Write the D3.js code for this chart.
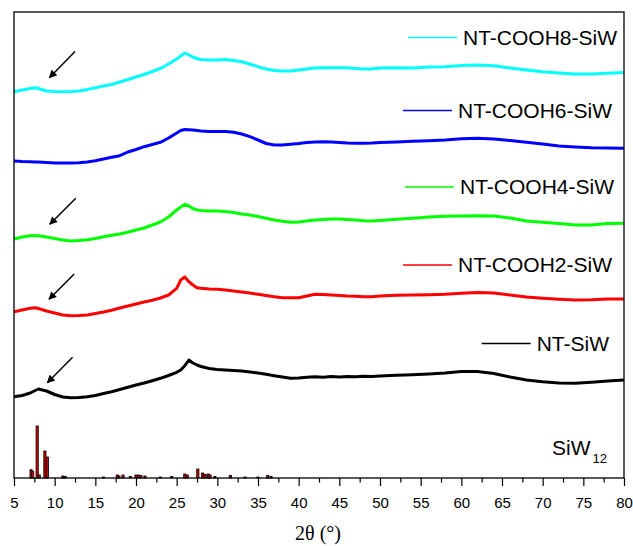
<!DOCTYPE html>
<html>
<head>
<meta charset="utf-8">
<script src="https://cdn.jsdelivr.net/npm/d3@7"></script>
<style>
body { margin: 0; background: #fff; }
text { font-family: "Liberation Sans", Arial, sans-serif; fill: #000; }
</style>
</head>
<body>
<div id="chart"></div>
<script>
var svgWidth = 633;
var svgHeight = 546;

var margin = { top: 12, right: 9, bottom: 68, left: 14 };

var width = svgWidth - margin.left - margin.right;
var height = svgHeight - margin.top - margin.bottom;

// 2theta positions where the traces were read
var twoTheta = [5, 6, 7, 7.6, 8, 9, 10, 11, 12, 13, 14, 15, 16, 17, 18, 19, 20, 21, 22, 23, 24,
  25, 25.5, 26, 26.5, 27, 27.5, 28,
  29, 30, 31, 32, 33, 34, 35, 36, 37, 38, 39, 40, 41, 42, 43, 44, 45, 46, 47, 48, 49, 50,
  52, 54, 56, 58, 60, 62, 64, 66, 68, 70, 72, 74, 76, 78, 80];

// intensities (a.u.), each trace above its own offset
var ntSiW = [11.3, 12.5, 15, 17.5, 19, 17, 13.5, 11, 10.3, 10.5, 11.3, 12.5, 14.5, 16.3, 18.5, 20.7, 23, 25, 27.3, 29.7, 32.5,
  35.7, 38, 42.3, 48, 45, 43, 41.5,
  39.5, 38.5, 38, 37.5, 37, 36, 35, 33.7, 32.3, 31, 29.7, 30, 30.7, 31.3, 30.8, 31.5, 31, 31.6, 31.2, 31.8, 31.4, 32,
  32.7, 33.3, 34, 35, 36.5, 36.5, 34.5, 31, 28, 26.3, 25, 24.7, 25.7, 27, 28];

var cooh2 = [16.3, 18, 19.7, 20.3, 19.5, 17, 15, 13, 12.3, 12.5, 13, 14.5, 16, 17.7, 20, 22, 24, 26, 27.7, 30, 33,
  39.7, 48, 51, 46.3, 43, 40.3, 39.7,
  39, 38.7, 38, 37, 36, 35, 33.7, 32.5, 31.3, 30.3, 30.3, 30.3, 32, 33.7, 33.5, 33, 32.5, 32, 31.7, 31.3, 31.3, 32,
  32.7, 33, 33.3, 33.7, 34.7, 35.5, 35, 33, 31, 29.7, 28.7, 28, 28.3, 29, 29];

var cooh4 = [9, 11, 12.3, 12.5, 12.3, 11, 9.5, 8, 7, 7.5, 8.3, 9.5, 11.3, 12.7, 14, 15.7, 18, 20, 23, 26, 31,
  38, 41, 43.7, 42, 39.5, 38, 37.5,
  37, 37, 36.5, 35.5, 34, 33, 31.5, 29.7, 28, 26.7, 25.7, 26, 27, 28, 28.5, 29, 29, 28.5, 28, 27.3, 27, 27.5,
  28.7, 29.7, 31, 31.7, 32, 32.3, 32, 30, 27, 25.7, 24.5, 23, 23, 24.5, 24.7];

var cooh6 = [17, 16.5, 16.3, 16, 16, 15.5, 15, 15, 15, 15.3, 16, 17.3, 19, 20.7, 22.3, 26, 28.5, 31.3, 33.5, 35.7, 40,
  45, 47.5, 48.5, 48.3, 48, 47.5, 47,
  46.5, 46.5, 46.5, 45.7, 44, 41.3, 38, 34.5, 33, 33, 33.7, 34.5, 35.5, 36, 36.3, 36, 35.5, 35, 34.7, 34.7, 35, 35.5,
  36, 36.7, 37.3, 38, 39.3, 39.7, 39, 37.5, 35.7, 34, 32, 31, 30.3, 30, 29.7];

var cooh8 = [16.3, 18, 19.5, 20.3, 19.5, 17, 16.5, 16.3, 16.5, 17, 18.5, 20.3, 22, 23.5, 26, 28.5, 31, 33.5, 36.5, 39.5, 44,
  49, 52, 55, 53, 51, 49.5, 48.5,
  48, 48, 48.5, 47.5, 46.3, 44, 41.3, 39, 37.5, 37, 37, 38, 39, 40, 40.3, 40.3, 40.3, 40.3, 39.5, 39, 39, 40,
  40.3, 40, 41, 41.3, 42.5, 43, 42.3, 40, 38, 36.3, 35, 34, 34, 34.7, 35.5];

var seriesNames = ["NT-SiW", "NT-COOH2-SiW", "NT-COOH4-SiW", "NT-COOH6-SiW", "NT-COOH8-SiW"];
var seriesValues = [ntSiW, cooh2, cooh4, cooh6, cooh8];
var seriesOffsets = [70, 150, 230, 300, 370];
var seriesColors = ["#000000", "#ff0000", "#00ff00", "#0000ff", "#00ffff"];

// SiW12 reference pattern
var refPos = [7.1, 7.3, 7.85, 8.1, 8.8, 9.1, 11.0, 11.3, 16.0, 17.7, 17.9, 18.4, 19.3, 20.0, 20.3, 20.6, 21.1,
  23.0, 24.4, 26.0, 26.3, 27.6, 28.2, 28.5, 28.9, 29.1, 29.7, 31.6, 33.4, 35.0, 36.2, 36.6];
var refInt = [8.3, 6.7, 52, 3, 27, 21, 2, 1.5, 1, 3, 2, 3, 1.5, 3, 3, 2.5, 2,
  1, 1.5, 4, 3, 9, 5, 3.5, 4, 3, 1.5, 2.5, 1, 1, 2.5, 1.5];

// arrows marking the low-angle hump: [x0, y0, x1, y1]
var arrows = [[12.5, 426.5, 9.35, 400.3], [12.6, 279.7, 9.4, 253.7], [12.4, 204, 9.3, 178.7], [12.2, 120.7, 9.1, 95.3]];

var majorTicks = [5, 10, 15, 20, 25, 30, 35, 40, 45, 50, 55, 60, 65, 70, 75, 80];
var minorTicks = [7.5, 12.5, 17.5, 22.5, 27.5, 32.5, 37.5, 42.5, 47.5, 52.5, 57.5, 62.5, 67.5, 72.5, 77.5];

var svg = d3.select("#chart")
  .append("svg")
  .attr("width", svgWidth)
  .attr("height", svgHeight);

var defs = svg.append("defs");
defs.append("marker")
  .attr("id", "head")
  .attr("viewBox", "0 0 10 10")
  .attr("refX", 9)
  .attr("refY", 5)
  .attr("markerWidth", 10)
  .attr("markerHeight", 8)
  .attr("markerUnits", "userSpaceOnUse")
  .attr("orient", "auto")
  .append("path")
  .attr("d", "M0,0L10,5L0,10z")
  .attr("fill", "#000");

var chartGroup = svg.append("g")
  .attr("transform", `translate(${margin.left}, ${margin.top})`);

var xScale = d3.scaleLinear().domain([5, 80]).range([0, width]);
var yScale = d3.scaleLinear().domain([0, height]).range([height, 0]);

// traces
var line = d3.line()
  .x((d, i) => xScale(twoTheta[i]))
  .y(d => yScale(d));

seriesValues.forEach(function(vals, k) {
  var off = seriesOffsets[k];
  chartGroup.append("path")
    .datum(vals.map(v => v + off))
    .attr("d", line)
    .attr("fill", "none")
    .attr("stroke", seriesColors[k])
    .attr("stroke-width", 3)
    .attr("stroke-linejoin", "round");
});

// SiW12 sticks
chartGroup.selectAll(".stick")
  .data(refPos)
  .enter()
  .append("rect")
  .attr("class", "stick")
  .attr("x", d => xScale(d) - 1.1)
  .attr("width", 2.2)
  .attr("y", (d, i) => yScale(refInt[i]))
  .attr("height", (d, i) => yScale(0) - yScale(refInt[i]))
  .attr("fill", "#d00000")
  .attr("stroke", "#000")
  .attr("stroke-width", 0.8);

// arrows
chartGroup.selectAll(".arrow")
  .data(arrows)
  .enter()
  .append("line")
  .attr("x1", d => xScale(d[0]))
  .attr("y1", d => yScale(d[1]))
  .attr("x2", d => xScale(d[2]))
  .attr("y2", d => yScale(d[3]))
  .attr("stroke", "#000")
  .attr("stroke-width", 1.5)
  .attr("marker-end", "url(#head)");

// frame
chartGroup.append("rect")
  .attr("width", width)
  .attr("height", height)
  .attr("fill", "none")
  .attr("stroke", "#000")
  .attr("stroke-width", 1.3);

// x axis, major and minor ticks
var xAxis = chartGroup.append("g")
  .attr("transform", `translate(0, ${height})`)
  .call(d3.axisBottom(xScale).tickValues(majorTicks).tickSize(8).tickPadding(11).tickFormat(d3.format("d")));
xAxis.select(".domain").remove();
xAxis.selectAll("line").attr("stroke-width", 1.2);
xAxis.selectAll("text").attr("font-size", 15).attr("font-family", "Liberation Sans, Arial, sans-serif");

var xMinor = chartGroup.append("g")
  .attr("transform", `translate(0, ${height})`)
  .call(d3.axisBottom(xScale).tickValues(minorTicks).tickSize(4.5).tickFormat(""));
xMinor.select(".domain").remove();
xMinor.selectAll("line").attr("stroke-width", 1.2);

// axis title
svg.append("text")
  .attr("x", 318)
  .attr("y", 540)
  .attr("text-anchor", "middle")
  .style("font-family", "'Liberation Serif', 'Times New Roman', serif")
  .style("font-size", "20px")
  .text("2θ (°)");

// legend, one entry beside each trace
var legendY = [350.5, 272, 194, 117.5, 44.5];
var legendRight = [609, 612, 614, 612, 617];
seriesNames.forEach(function(name, k) {
  var t = svg.append("text")
    .attr("x", legendRight[k])
    .attr("y", legendY[k])
    .attr("text-anchor", "end")
    .style("font-size", "21px")
    .text(name);
  var tx = legendRight[k] - t.node().getComputedTextLength();
  svg.append("line")
    .attr("x1", tx - 55)
    .attr("x2", tx - 6)
    .attr("y1", legendY[k] - 7)
    .attr("y2", legendY[k] - 7)
    .attr("stroke", seriesColors[k])
    .attr("stroke-width", 1.5);
});

// reference label
var refLabel = svg.append("text")
  .attr("x", 552)
  .attr("y", 455)
  .style("font-size", "21px");
refLabel.append("tspan").text("SiW");
refLabel.append("tspan")
  .attr("dy", 8)
  .attr("dx", 2)
  .style("font-size", "13px")
  .text("12");
</script>
</body>
</html>
